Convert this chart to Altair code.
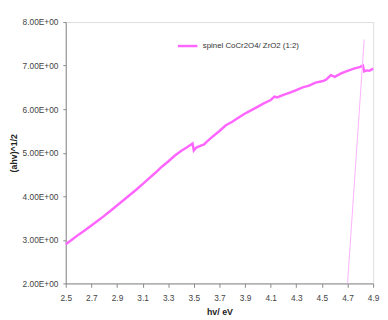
import altair as alt
import pandas as pd

# Main spectrum
hv = [2.50, 2.55, 2.60, 2.65, 2.70, 2.75, 2.80, 2.85, 2.90, 2.95, 3.00, 3.05, 3.10, 3.15,
      3.20, 3.25, 3.30, 3.35, 3.40, 3.45, 3.49, 3.50, 3.52, 3.55, 3.58, 3.60, 3.65, 3.70,
      3.75, 3.80, 3.85, 3.90, 3.95, 4.00, 4.05, 4.10, 4.13, 4.15, 4.20, 4.25, 4.30, 4.35,
      4.40, 4.45, 4.50, 4.53, 4.57, 4.60, 4.65, 4.70, 4.75, 4.80, 4.82, 4.83, 4.85, 4.87, 4.90]
val = [2.90, 3.01, 3.12, 3.22, 3.33, 3.44, 3.55, 3.67, 3.79, 3.91, 4.03, 4.15, 4.28, 4.41,
       4.54, 4.68, 4.80, 4.93, 5.04, 5.13, 5.21, 5.05, 5.12, 5.16, 5.19, 5.25, 5.38, 5.50,
       5.63, 5.71, 5.81, 5.90, 5.98, 6.06, 6.14, 6.21, 6.29, 6.27, 6.33, 6.38, 6.44, 6.50,
       6.54, 6.61, 6.64, 6.67, 6.78, 6.74, 6.82, 6.88, 6.93, 6.97, 7.00, 6.87, 6.89, 6.88, 6.93]
series_name = "spinel CoCr2O4/ ZrO2 (1:2)"

# Tangent (extrapolation) line
tan_x = [4.70, 4.83]
tan_y = [2.00, 7.60]

x_ticks = [2.5, 2.7, 2.9, 3.1, 3.3, 3.5, 3.7, 3.9, 4.1, 4.3, 4.5, 4.7, 4.9]
y_ticks = [2, 3, 4, 5, 6, 7, 8]

df = pd.DataFrame({"hv": hv, "val": val, "series": series_name})
tdf = pd.DataFrame({"hv": tan_x, "val": tan_y})

FONT = "Liberation Sans"

xenc = alt.X("hv:Q", scale=alt.Scale(domain=[2.5, 4.9], nice=False, zero=False),
             axis=alt.Axis(values=x_ticks, format=".1f", title="hv/ eV", grid=False,
                           labelFont=FONT, labelFontSize=8.5, labelColor="#444",
                           labelOverlap=False, labelBound=False,
                           titleFont=FONT, titleFontSize=9, titleFontWeight="bold",
                           titleColor="#222", titlePadding=6,
                           domainColor="#888", tickColor="#888", tickSize=4,
                           labelPadding=6, labelFlush=False))
yenc = alt.Y("val:Q", scale=alt.Scale(domain=[2, 8], nice=False, zero=False),
             axis=alt.Axis(values=y_ticks, labelExpr="format(datum.value, '.2f') + 'E+00'",
                           title="(ahv)^1/2", grid=False,
                           labelFont=FONT, labelFontSize=8.5, labelColor="#444",
                           labelOverlap=False,
                           titleFont=FONT, titleFontSize=9, titleFontWeight="bold",
                           titleColor="#222", titleX=-48,
                           domainColor="#888", tickColor="#888", tickSize=3,
                           labelPadding=5))

main = alt.Chart(df).mark_line(strokeWidth=2.5).encode(
    x=xenc, y=yenc,
    color=alt.Color("series:N", scale=alt.Scale(range=["#FF66FF"]),
                    legend=alt.Legend(title=None, orient="none", legendX=113, legendY=13,
                                      symbolType="stroke", symbolSize=400,
                                      symbolStrokeWidth=2.5,
                                      labelFont=FONT, labelFontSize=8, labelColor="#333"))
)

tangent = alt.Chart(tdf).mark_line(strokeWidth=1, color="#FFB0FF").encode(
    x=xenc, y=yenc
)

chart = (alt.layer(main, tangent)
         .properties(width=314, height=267,
                     autosize=alt.AutoSizeParams(type="none"),
                     padding={"left": 59, "top": 11, "right": 7, "bottom": 34})
         .configure_view(stroke=None)
         .configure_axis(labelOverlap=False)
         .configure(background="white"))

chart.save("out.html", embed_options={"renderer": "svg", "actions": False})
